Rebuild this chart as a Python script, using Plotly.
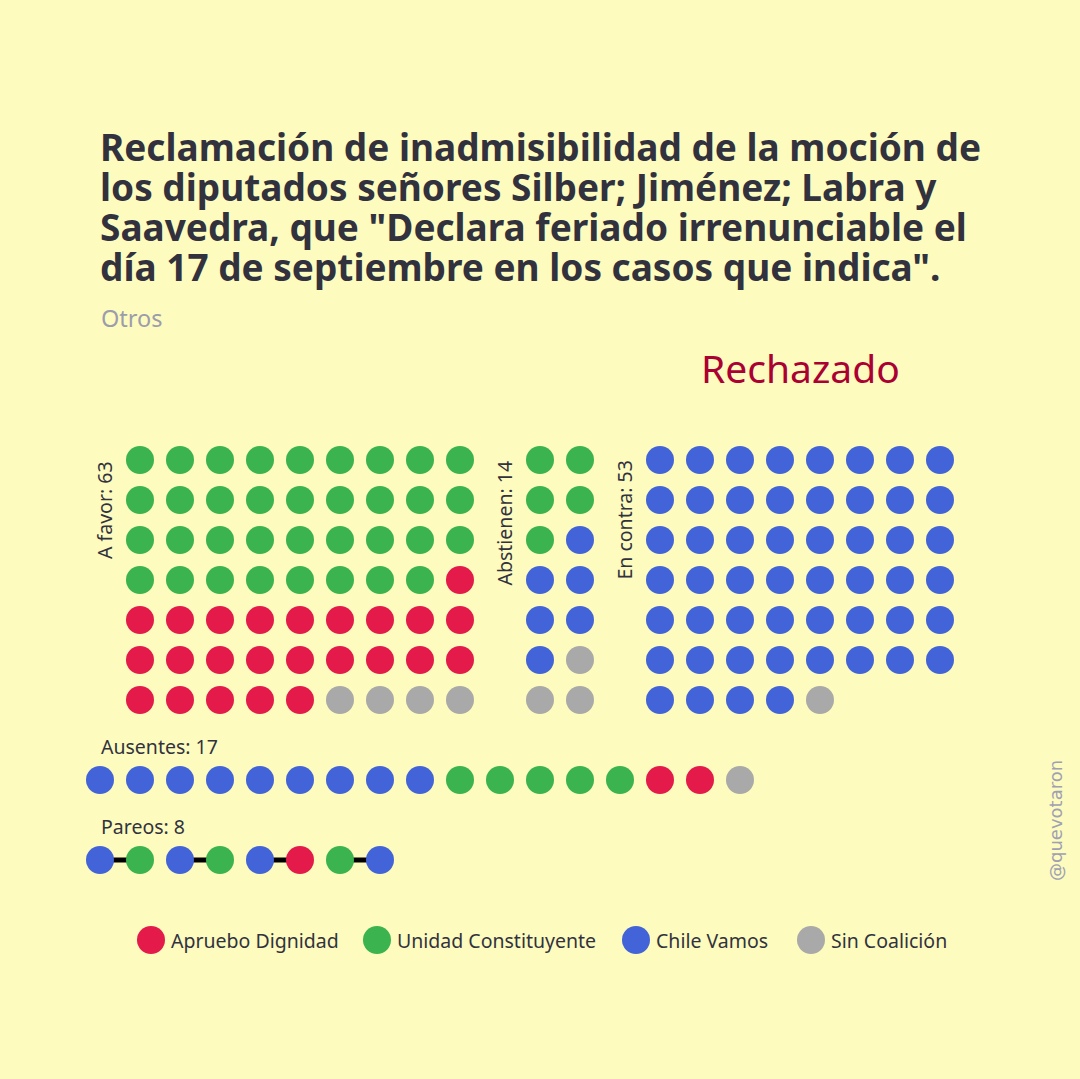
import plotly.graph_objects as go

# Coalitions and colours
coalitions = ["Apruebo Dignidad", "Unidad Constituyente", "Chile Vamos", "Sin Coalición"]
coalition_colors = ["#E31A4A", "#3BB34E", "#4364D8", "#A9A9A9"]

# Votes per block, in fill order
a_favor_groups = ["Unidad Constituyente", "Apruebo Dignidad", "Sin Coalición"]
a_favor_counts = [35, 24, 4]
abstienen_groups = ["Unidad Constituyente", "Chile Vamos", "Sin Coalición"]
abstienen_counts = [5, 6, 3]
en_contra_groups = ["Chile Vamos", "Sin Coalición"]
en_contra_counts = [52, 1]
ausentes_groups = ["Chile Vamos", "Unidad Constituyente", "Apruebo Dignidad", "Sin Coalición"]
ausentes_counts = [9, 5, 2, 1]
pareos = [("Chile Vamos", "Unidad Constituyente"),
          ("Chile Vamos", "Unidad Constituyente"),
          ("Chile Vamos", "Apruebo Dignidad"),
          ("Unidad Constituyente", "Chile Vamos")]

title_lines = ["Reclamación de inadmisibilidad de la moción de",
               "los diputados señores Silber; Jiménez; Labra y",
               "Saavedra, que \"Declara feriado irrenunciable el",
               "día 17 de septiembre en los casos que indica\"."]

BG = "#FDFCBE"
TEXT = "#32323E"
FONT = "Noto Sans"
STEP = 40
DOT = 28
LABEL_SIZE = 19.5


def expand(groups, counts):
    out = []
    for g, c in zip(groups, counts):
        out += [g] * c
    return out


def grid(members, x0, y0, ncols):
    pts = []
    for i, m in enumerate(members):
        pts.append((x0 + (i % ncols) * STEP, y0 + (i // ncols) * STEP, m))
    return pts


points = []
points += grid(expand(a_favor_groups, a_favor_counts), 140, 460, 9)
points += grid(expand(abstienen_groups, abstienen_counts), 540, 460, 2)
points += grid(expand(en_contra_groups, en_contra_counts), 660, 460, 8)
points += grid(expand(ausentes_groups, ausentes_counts), 100, 780, 17)
pareo_members = [m for pair in pareos for m in pair]
points += grid(pareo_members, 100, 860, 8)

fig = go.Figure()

# pareo connector lines
lx, ly = [], []
for i in range(len(pareos)):
    xa = 100 + (2 * i) * STEP
    lx += [xa, xa + STEP, None]
    ly += [860, 860, None]
fig.add_trace(go.Scatter(x=lx, y=ly, mode="lines", line=dict(color="black", width=5),
                         hoverinfo="skip", showlegend=False))

for name, color in zip(coalitions, coalition_colors):
    xs = [p[0] for p in points if p[2] == name]
    ys = [p[1] for p in points if p[2] == name]
    fig.add_trace(go.Scatter(x=xs, y=ys, mode="markers", name=name,
                             marker=dict(size=DOT, color=color, line=dict(width=0)),
                             showlegend=False))

# manual legend
legend_x = [151, 377, 636, 811]
fig.add_trace(go.Scatter(x=legend_x, y=[940] * 4, mode="markers",
                         marker=dict(size=DOT, color=coalition_colors),
                         hoverinfo="skip", showlegend=False))

annotations = []
for i, line in enumerate(title_lines):
    annotations.append(dict(x=98, y=146 + i * 40, text="<b>" + line + "</b>",
                            xanchor="left", yanchor="middle",
                            font=dict(size=37, color=TEXT, family=FONT)))
annotations.append(dict(x=99, y=318, text="Otros", xanchor="left", yanchor="middle",
                        font=dict(size=23.5, color="#9C9CAC", family=FONT)))
annotations.append(dict(x=800, y=367, text="Rechazado", xanchor="center", yanchor="middle",
                        font=dict(size=39, color="#AA0033", family=FONT)))
for txt, x, y in [("A favor: 63", 104, 459), ("Abstienen: 14", 504, 459),
                  ("En contra: 53", 624, 459)]:
    annotations.append(dict(x=x, y=y, text=txt, textangle=-90, xanchor="center",
                            yanchor="top", font=dict(size=LABEL_SIZE, color=TEXT, family=FONT)))
annotations.append(dict(x=99, y=746, text="Ausentes: 17", xanchor="left", yanchor="middle",
                        font=dict(size=LABEL_SIZE, color=TEXT, family=FONT)))
annotations.append(dict(x=99, y=826, text="Pareos: 8", xanchor="left", yanchor="middle",
                        font=dict(size=LABEL_SIZE, color=TEXT, family=FONT)))
for name, x in zip(coalitions, legend_x):
    annotations.append(dict(x=x + 18, y=940, text=name, xanchor="left", yanchor="middle",
                            font=dict(size=LABEL_SIZE, color=TEXT, family=FONT)))
annotations.append(dict(x=1055, y=821, text="@quevotaron", textangle=-90,
                        xanchor="center", yanchor="middle",
                        font=dict(size=18, color="#A0A0B4", family="DejaVu Sans")))

for a in annotations:
    a.update(xref="x", yref="y", showarrow=False)

fig.update_layout(
    width=1080, height=1079,
    margin=dict(l=0, r=0, t=0, b=0),
    paper_bgcolor=BG, plot_bgcolor=BG,
    xaxis=dict(range=[0, 1080], visible=False, fixedrange=True),
    yaxis=dict(range=[1079, 0], visible=False, fixedrange=True),
    annotations=annotations,
)

fig.write_html("out.html", config={"displayModeBar": False},
               post_script="document.body.style.margin='0';document.body.style.background='" + BG + "';")
